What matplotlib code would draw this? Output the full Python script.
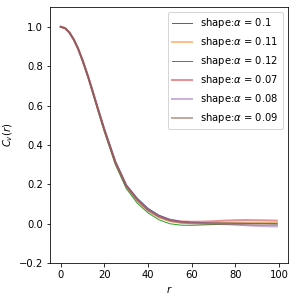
import matplotlib
matplotlib.use("Agg")
import matplotlib.pyplot as plt

# correlation curves for several shape parameters
r = [0, 2, 4, 6, 8, 10, 12.5, 15, 17.5, 20, 25, 30, 35, 40, 45, 50, 55, 60, 65, 70,
     75, 80, 85, 90, 95, 99]

alphas = ["0.1", "0.11", "0.12", "0.07", "0.08", "0.09"]

c_01 = [1.0, 0.993, 0.971, 0.935, 0.888, 0.831, 0.75, 0.66, 0.569, 0.48, 0.318, 0.198,
        0.13, 0.078, 0.043, 0.022, 0.012, 0.008, 0.006, 0.005, 0.005, 0.004, 0.003,
        0.002, 0.001, 0.0]
c_011 = [1.0, 0.993, 0.971, 0.935, 0.888, 0.829, 0.747, 0.656, 0.563, 0.474, 0.309, 0.188,
         0.118, 0.066, 0.032, 0.013, 0.005, 0.003, 0.003, 0.004, 0.005, 0.006, 0.006,
         0.005, 0.005, 0.005]
c_012 = [1.0, 0.993, 0.971, 0.934, 0.887, 0.828, 0.745, 0.652, 0.559, 0.468, 0.302, 0.179,
         0.105, 0.055, 0.02, 0.0, -0.007, -0.008, -0.006, -0.004, -0.002, 0.0, 0.001,
         0.002, 0.002, 0.002]
c_007 = [1.0, 0.993, 0.971, 0.935, 0.888, 0.83, 0.749, 0.659, 0.567, 0.478, 0.315, 0.195,
         0.125, 0.073, 0.04, 0.02, 0.012, 0.01, 0.011, 0.013, 0.016, 0.018, 0.019,
         0.018, 0.017, 0.016]
c_008 = [1.0, 0.993, 0.971, 0.935, 0.888, 0.83, 0.748, 0.658, 0.566, 0.477, 0.313, 0.193,
         0.122, 0.07, 0.037, 0.018, 0.009, 0.006, 0.004, 0.002, -0.001, -0.004, -0.008,
         -0.011, -0.013, -0.014]
c_009 = [1.0, 0.993, 0.971, 0.935, 0.888, 0.83, 0.748, 0.658, 0.566, 0.476, 0.312, 0.192,
         0.12, 0.068, 0.035, 0.015, 0.006, 0.002, 0.0, -0.001, -0.002, -0.003, -0.004,
         -0.005, -0.006, -0.006]

series = [c_01, c_011, c_012, c_007, c_008, c_009]
colors = ["tab:blue", "tab:orange", "tab:green", "tab:red", "tab:purple", "tab:brown"]
widths = [1, 2, 1, 2, 2, 2]
alphas_line = [1.0, 0.5, 1.0, 0.5, 0.5, 0.5]

fig = plt.figure(figsize=(4.125, 4.125), dpi=72)
ax = fig.add_axes([0.168, 0.114, 0.801, 0.862])

for a, vals, col, lw, al in zip(alphas, series, colors, widths, alphas_line):
    ax.plot(r, vals, color=col, lw=lw, alpha=al, label="shape:$\\alpha$ = " + a)

ax.set_ylim(-0.2, 1.1)
ax.set_xlabel("$r$")
ax.set_ylabel("$C_v(r)$")
ax.legend(loc="upper right")

fig.savefig("out.png", dpi=72)
